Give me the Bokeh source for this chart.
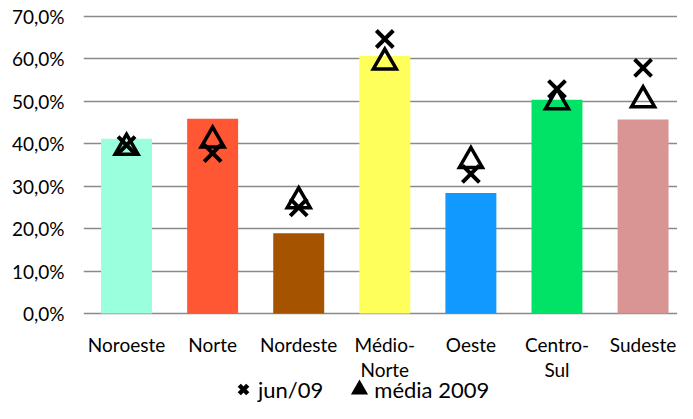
from bokeh.plotting import figure
from bokeh.models import Range1d, FixedTicker, Legend, LegendItem, ColumnDataSource
from bokeh.core.properties import value
from bokeh.embed import file_html
from bokeh.resources import INLINE

# ---- data ----
categories = ["Noroeste", "Norte", "Nordeste", "Médio-\nNorte", "Oeste", "Centro-\nSul", "Sudeste"]
bar_values = [41.2, 45.9, 18.9, 60.7, 28.4, 50.4, 45.7]
jun09 = [39.7, 37.8, 25.0, 64.7, 32.9, 52.9, 57.9]
media2009 = [40.1, 41.8, 27.5, 60.2, 37.0, 50.8, 51.3]
bar_colors = ["#99FFDD", "#FF5733", "#A65300", "#FFFF5B", "#1199FF", "#00E366", "#D99594"]
y_ticks = [0, 10, 20, 30, 40, 50, 60, 70]
y_tick_labels = ["0,0%", "10,0%", "20,0%", "30,0%", "40,0%", "50,0%", "60,0%", "70,0%"]
legend_labels = ["jun/09", "média 2009"]

FONT = "Lato"
FS = "19px"

xs = [i + 0.5 for i in range(len(categories))]
# bokeh's triangle is centred on its centroid; shift so its box centre sits on the value
tri_shift = 1.0
media_plot = [v - tri_shift for v in media2009]

src = ColumnDataSource(dict(x=xs, bar=bar_values, color=bar_colors,
                            jun=jun09, media=media_plot, zero=[0] * len(xs), cat=categories))

# frame spans the full height; the area below 0 holds category names and legend
p = figure(width=677, height=403, output_backend="svg", toolbar_location=None,
           x_range=Range1d(0, 6.90), y_range=Range1d(-21.21, 73.77),
           x_axis_type=None,
           min_border_left=83, min_border_right=0, min_border_top=0, min_border_bottom=0)
p.outline_line_color = None

p.vbar(x="x", top="bar", width=0.592, bottom=0, fill_color="color", line_color=None, source=src)

p.scatter(x="x", y="jun", marker="x", size=24, line_color="black", line_width=4, source=src)
p.scatter(x="x", y="media", marker="triangle", size=23, line_color="black", fill_color=None,
          line_width=3.5, line_join="miter", source=src)

# category names under the baseline
p.text(x="x", y="zero", text="cat", source=src, text_align="center", text_baseline="top",
       y_offset=19, text_font=value(FONT), text_font_size=value(FS), text_color="black",
       text_line_height=1.1)

# y axis
p.yaxis.ticker = FixedTicker(ticks=y_ticks)
p.yaxis.major_label_overrides = {t: l for t, l in zip(y_ticks, y_tick_labels)}
p.yaxis.axis_line_color = None
p.yaxis.major_tick_line_color = None
p.yaxis.minor_tick_line_color = None
p.yaxis.major_label_standoff = 13
p.yaxis.major_label_text_font = FONT
p.yaxis.major_label_text_font_size = FS
p.yaxis.major_label_text_color = "black"

p.xgrid.grid_line_color = None
p.ygrid.ticker = FixedTicker(ticks=y_ticks)
p.ygrid.grid_line_color = "#8a8a8a"
p.ygrid.grid_line_width = 1.5
p.ygrid.level = "underlay"

# legend (dummy renderers so legend glyphs can be styled separately)
nan = float("nan")
lx = p.scatter(x=[nan], y=[nan], marker="x", size=12, line_color="black", line_width=4.5)
lt = p.scatter(x=[nan], y=[nan], marker="triangle", size=12, line_color="black",
               fill_color="black", line_width=3, line_join="miter")
legend = Legend(items=[LegendItem(label=legend_labels[0], renderers=[lx]),
                       LegendItem(label=legend_labels[1], renderers=[lt])],
                orientation="horizontal", location=(145, -1),
                glyph_width=30, glyph_height=30, label_standoff=-3, spacing=21,
                padding=0, margin=0, border_line_color=None, background_fill_alpha=0,
                label_text_font=FONT, label_text_font_size="22px", label_text_color="black")
p.add_layout(legend)

open("out.html", "w").write(file_html(p, INLINE))
